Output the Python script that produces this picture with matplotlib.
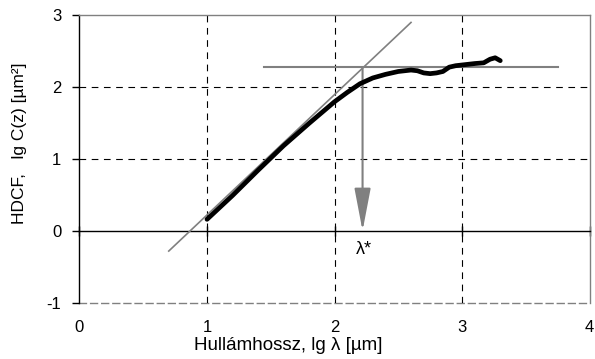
import matplotlib
matplotlib.use("Agg")
import matplotlib.pyplot as plt

plt.rcParams['font.family'] = ['Liberation Sans', 'DejaVu Sans']
plt.rcParams['font.size'] = 12

# measured HDCF curve
lg_lambda = [1.00, 1.20, 1.40, 1.60, 1.80, 1.90, 2.00, 2.10, 2.20, 2.30, 2.40,
             2.50, 2.60, 2.65, 2.70, 2.75, 2.80, 2.85, 2.90, 2.95, 3.00, 3.10,
             3.17, 3.22, 3.26, 3.30]
lg_C = [0.16, 0.49, 0.84, 1.18, 1.49, 1.64, 1.79, 1.92, 2.04, 2.12, 2.17,
        2.21, 2.23, 2.22, 2.19, 2.18, 2.19, 2.21, 2.27, 2.29, 2.30, 2.32,
        2.33, 2.38, 2.40, 2.36]

# tangent (fitted slope) line
tangent_x = [0.70, 2.60]
tangent_y = [-0.28, 2.89]

# saturation level line
plateau_x = [1.45, 3.75]
plateau_y = [2.27, 2.27]

# critical wavelength
lambda_star = 2.22
lambda_label = "λ*"

x_ticks = [0, 1, 2, 3, 4]
y_ticks = [-1, 0, 1, 2, 3]

fig = plt.figure(figsize=(5.95, 3.59), dpi=100)
ax = fig.add_axes([0.1336, 0.156, 0.8572, 0.8036])
ax.set_xlim(0, 4)
ax.set_ylim(-1, 3)

gray = '#808080'

# grid
for xv in [1, 2, 3]:
    ax.axvline(xv, color='black', lw=0.8, ls=(0, (6, 5)), zorder=1)
for yv in [1, 2]:
    ax.axhline(yv, color='black', lw=0.8, ls=(0, (6, 5)), zorder=1)

# spines
ax.spines['left'].set_color('black')
ax.spines['left'].set_linewidth(1.0)
ax.spines['top'].set_color(gray)
ax.spines['right'].set_color(gray)
ax.spines['top'].set_linewidth(1.0)
ax.spines['right'].set_linewidth(1.0)
ax.spines['bottom'].set_position(('data', 0))
ax.spines['bottom'].set_color('black')
ax.spines['bottom'].set_linewidth(1.0)

ax.set_xticks(x_ticks)
ax.set_xticklabels([''] * len(x_ticks))
ax.tick_params(axis='x', direction='inout', length=7, width=1.0, color='black')
ax.set_yticks(y_ticks)
ax.set_yticklabels([str(v) for v in y_ticks])
ax.tick_params(axis='y', direction='out', length=5, width=1.0, pad=8, labelsize=12)

sec = ax.secondary_xaxis(0.0)
sec.set_xticks(x_ticks)
sec.set_xticklabels([str(v) for v in x_ticks])
sec.tick_params(length=0, pad=12, labelsize=12)
sec.spines['bottom'].set_color(gray)
sec.spines['bottom'].set_linestyle((0, (5, 3)))
sec.spines['bottom'].set_linewidth(1.0)

# lines
ax.plot(tangent_x, tangent_y, color=gray, lw=1.2, zorder=3)
ax.plot(plateau_x, plateau_y, color=gray, lw=1.5, zorder=3)
ax.plot(lg_lambda, lg_C, color='black', lw=3.4, solid_capstyle='round', zorder=4)

ax.annotate('', xy=(lambda_star, 0), xytext=(lambda_star, plateau_y[0]),
            arrowprops=dict(arrowstyle='-|>,head_length=2.2,head_width=0.42',
                            color=gray, lw=1.5, shrinkA=0, shrinkB=0),
            zorder=3)
ax.text(2.17, -0.26, lambda_label, ha='left', va='center', fontsize=13)

ax.set_xlabel('Hullámhossz, lg λ [µm]', fontsize=13.5)
ax.xaxis.set_label_coords(0.409, -0.118)
ax.set_ylabel('HDCF,   lg C(z) [µm²]', fontsize=12.5)
ax.yaxis.set_label_coords(-0.103, 0.553)

fig.savefig('out.png', dpi=100)
